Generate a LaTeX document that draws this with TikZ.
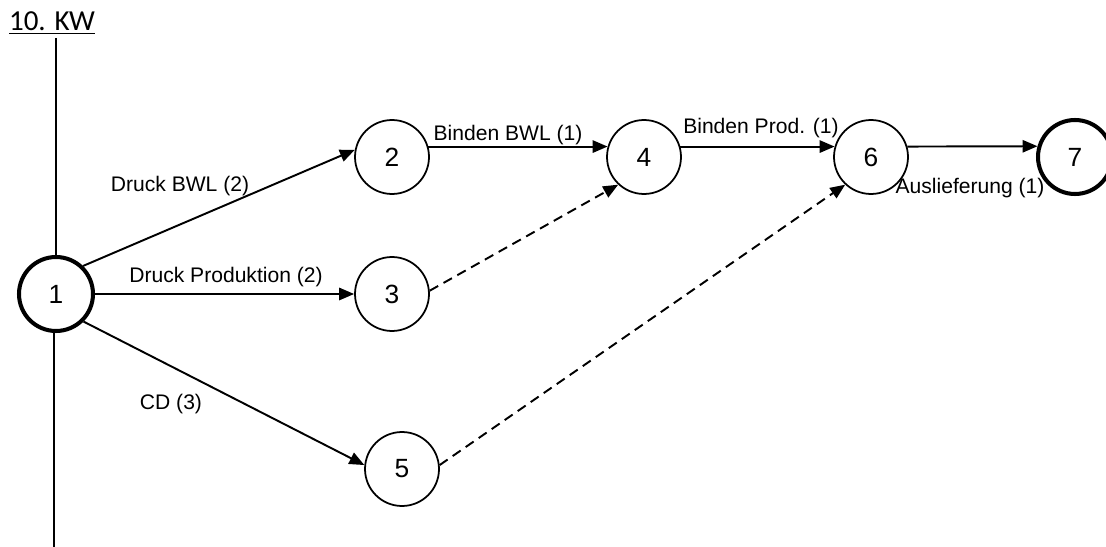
\documentclass[tikz,border=0pt]{standalone}
\usepackage{fontspec}
\setmainfont{Liberation Sans}
\newfontfamily\kwfont{Carlito}
\usetikzlibrary{arrows.meta}

\begin{document}
\begin{tikzpicture}[
  x=0.02cm, y=-0.02cm,
  >={Triangle[length=8.5pt,width=7pt]},
  event/.style={draw, circle, minimum size=1.48cm, inner sep=0pt, line width=1pt, font=\fontsize{15}{17}\selectfont},
  milestone/.style={event, line width=2.3pt},
  task/.style={->, line width=1.1pt},
  dummy/.style={task, dash pattern=on 5.5pt off 3.5pt},
  lbl/.style={inner sep=0pt, font=\fontsize{12}{14}\selectfont}
]
\useasboundingbox (0,0) rectangle (1106,547);

\node [inner sep=0pt, font=\kwfont\fontsize{16.5}{18}\selectfont] (kw) at (52,23) {\underline{10. KW}};
\coordinate (axistop) at (56,38);
\coordinate (axisbot) at (54,547);

\node [milestone] (n1) at (56,294) {1};
\node [event] (n2) at (392,157) {2};
\node [event] (n3) at (392,294) {3};
\node [event] (n4) at (644,157) {4};
\node [event] (n5) at (402,469) {5};
\node [event] (n6) at (871,157) {6};
\node [milestone] (n7) at (1075,157) {7};

% time axis
\draw [line width=1.1pt] (axistop) -- (n1.north);
\draw [line width=1.1pt] (n1.south -| axisbot) -- (axisbot);

\draw [task] (n1.46) -- (n2.169);
\draw [task] (n1.east) -- (n3.west);
\draw [task] (n1.-45) -- (n5.174);
\draw [task] (n2.16) -- (n4.164);
\draw [task] (n4.16) -- (n6.164);
\draw [task] (n6.16) -- (n7.164);
\draw [dummy] (n3.5) -- (n4.-133);
\draw [dummy] (n5.6) -- (n6.-133);

\node [lbl] (l12) at (180,186) {Druck BWL (2)};
\node [lbl] (l13) at (226,277) {Druck Produktion (2)};
\node [lbl] (l15) at (171,404) {CD (3)};
\node [lbl] (l24) at (508,135) {Binden BWL (1)};
\node [lbl] (l46) at (761,128) {Binden Prod. (1)};
\node [lbl] (l67) at (970,188) {Auslieferung (1)};
\end{tikzpicture}
\end{document}
